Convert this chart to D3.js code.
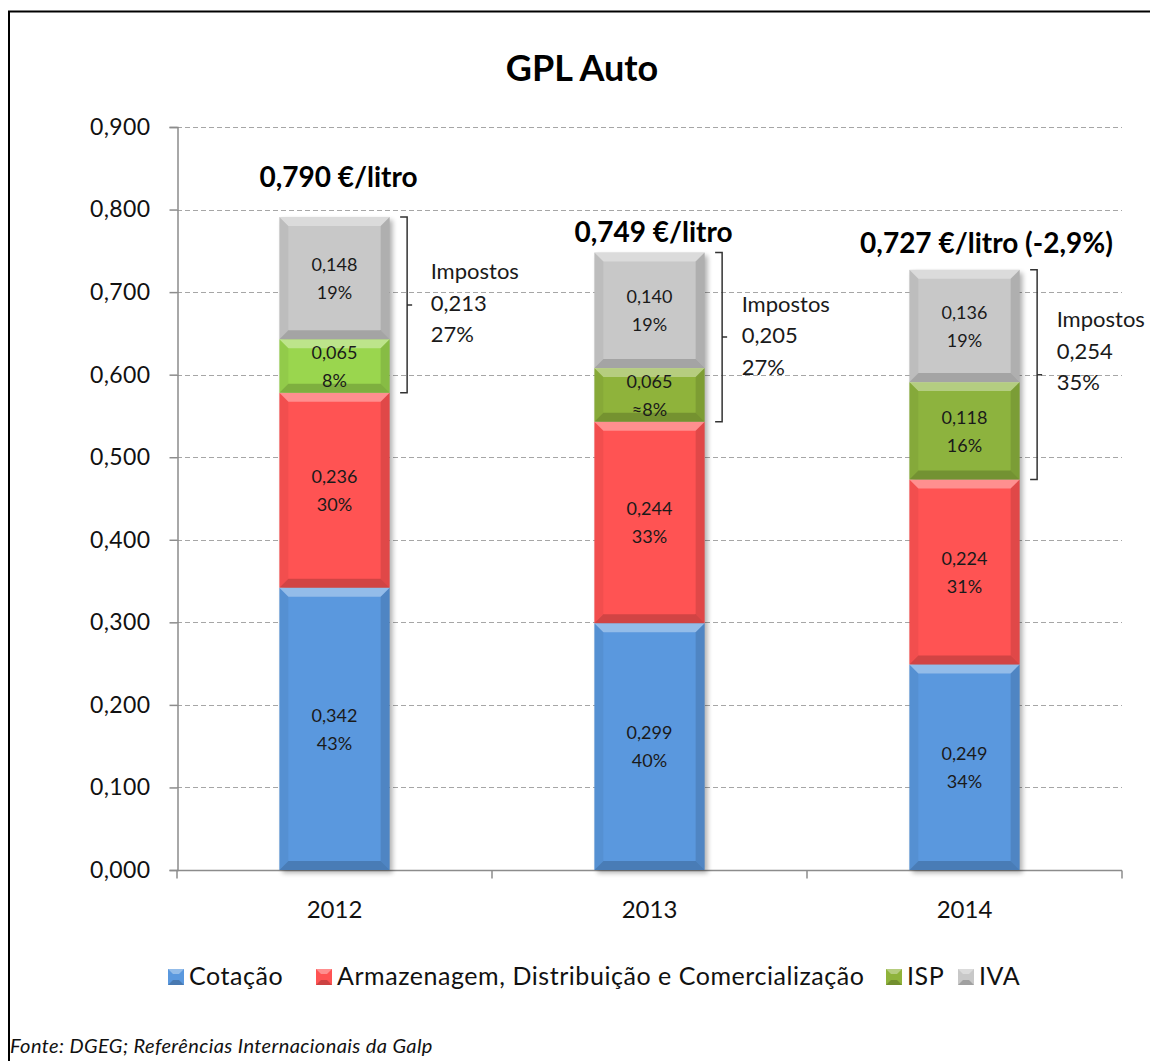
<!DOCTYPE html>
<html>
<head>
<meta charset="utf-8">
<script src="https://cdn.jsdelivr.net/npm/d3@7"></script>
<style>
  body { margin: 0; background: #fff; }
  svg { display: block; font-family: Lato, "Open Sans", sans-serif; }
</style>
</head>
<body>
<div id="chart"></div>
<script>
// chart data
const years = ["2012", "2013", "2014"];
const seriesNames = ["Cotação", "Armazenagem, Distribuição e Comercialização", "ISP", "IVA"];
const cotacao = [0.342, 0.299, 0.249];
const armazenagem = [0.236, 0.244, 0.224];
const isp = [0.065, 0.065, 0.118];
const iva = [0.148, 0.140, 0.136];
const cotacaoPct = ["43%", "40%", "34%"];
const armazenagemPct = ["30%", "33%", "31%"];
const ispPct = ["8%", "≈8%", "16%"];
const ivaPct = ["19%", "19%", "19%"];
const totals = ["0,790 €/litro", "0,749 €/litro", "0,727 €/litro (-2,9%)"];
const impostos = ["0,213", "0,205", "0,254"];
const impostosPct = ["27%", "27%", "35%"];
const yTicks = [0, 0.1, 0.2, 0.3, 0.4, 0.5, 0.6, 0.7, 0.8, 0.9];

// layout tweaks for the annotations
const totalLift = [30, 10, 17];
const impostosShift = [-2, -2, -24];

const width = 1150, height = 1061;
const margin = { left: 177, right: 28, top: 127, bottom: 191 };

const svg = d3.select("#chart").append("svg")
  .attr("width", width)
  .attr("height", height);

// frame
svg.append("path")
  .attr("d", `M9,${height + 5} V11.5 H${width + 5}`)
  .attr("fill", "none")
  .attr("stroke", "#000")
  .attr("stroke-width", 2);

const x = d3.scaleBand()
  .domain(years)
  .range([margin.left, width - margin.right])
  .paddingInner(0.65)
  .paddingOuter(0.325);

const y = d3.scaleLinear()
  .domain([0, 0.9])
  .range([height - margin.bottom, margin.top]);

const total = i => cotacao[i] + armazenagem[i] + isp[i] + iva[i];

// title
svg.append("text")
  .attr("x", 582).attr("y", 81)
  .attr("text-anchor", "middle")
  .attr("font-size", 36).attr("font-weight", "bold")
  .text("GPL Auto");

// gridlines
svg.append("g")
  .selectAll("line")
  .data(yTicks.slice(1))
  .join("line")
  .attr("x1", margin.left).attr("x2", width - margin.right)
  .attr("y1", d => Math.round(y(d)) + 0.5).attr("y2", d => Math.round(y(d)) + 0.5)
  .attr("stroke", "#a6a6a6")
  .attr("stroke-dasharray", "5,3");

// y axis
const yAxis = svg.append("g")
  .attr("transform", `translate(${margin.left + 0.5},0)`)
  .call(d3.axisLeft(y).tickValues(yTicks).tickSize(8).tickPadding(19)
    .tickFormat(d => d3.format(".3f")(d).replace(".", ",")));
yAxis.select(".domain").attr("stroke", "#8c8c8c").attr("stroke-width", 1.5);
yAxis.selectAll(".tick line").attr("stroke", "#8c8c8c").attr("stroke-width", 1.5);
yAxis.selectAll("text").attr("font-size", 23).attr("letter-spacing", 0.4).attr("fill", "#111").attr("font-family", "Lato, sans-serif");

// x axis
const xBase = Math.round(y(0)) + 0.5;
svg.append("line")
  .attr("x1", margin.left).attr("x2", width - margin.right)
  .attr("y1", xBase).attr("y2", xBase)
  .attr("stroke", "#8c8c8c").attr("stroke-width", 1.5);
const bandEdges = d3.range(years.length + 1).map(i => margin.left + i * (width - margin.left - margin.right) / years.length);
svg.append("g")
  .selectAll("line")
  .data(bandEdges)
  .join("line")
  .attr("x1", d => d).attr("x2", d => d)
  .attr("y1", xBase).attr("y2", xBase + 8)
  .attr("stroke", "#8c8c8c").attr("stroke-width", 1.5);
svg.append("g")
  .selectAll("text")
  .data(years)
  .join("text")
  .attr("x", d => x(d) + x.bandwidth() / 2)
  .attr("y", xBase + 47)
  .attr("text-anchor", "middle")
  .attr("font-size", 24).attr("fill", "#111")
  .text(d => d);

// stacked segments
const colors = ["#5a98de", "#ff5353", "#92cf4c", "#c8c8c8"];
const ispColors = ["#9ad64e", "#8fb33b", "#8db33e"];
const values = [cotacao, armazenagem, isp, iva];
const pcts = [cotacaoPct, armazenagemPct, ispPct, ivaPct];

const segments = [];
years.forEach((yr, i) => {
  let base = 0;
  values.forEach((vals, s) => {
    segments.push({
      year: yr, i, s,
      y0: base, y1: base + vals[i],
      value: vals[i], pct: pcts[s][i],
      color: s === 2 ? ispColors[i] : colors[s]
    });
    base += vals[i];
  });
});

const defs = svg.append("defs");
defs.append("filter").attr("id", "shadow")
  .attr("x", "-20%").attr("y", "-20%").attr("width", "140%").attr("height", "140%")
  .append("feGaussianBlur").attr("stdDeviation", 2.5);

// shadows behind each bar
svg.append("g")
  .selectAll("rect")
  .data(years)
  .join("rect")
  .attr("x", d => x(d) + 3)
  .attr("y", (d, i) => y(total(i)) + 3)
  .attr("width", x.bandwidth())
  .attr("height", (d, i) => y(0) - y(total(i)))
  .attr("fill", "#000").attr("opacity", 0.3)
  .attr("filter", "url(#shadow)");

const seg = svg.append("g")
  .selectAll("g")
  .data(segments)
  .join("g");

seg.append("rect")
  .attr("x", d => x(d.year))
  .attr("y", d => y(d.y1))
  .attr("width", x.bandwidth())
  .attr("height", d => y(d.y0) - y(d.y1))
  .attr("fill", d => d.color);

// bevel edges
function bevel(d, side) {
  const x0 = x(d.year), x1 = x0 + x.bandwidth();
  const t = y(d.y1), b = y(d.y0);
  const k = Math.min(9, (b - t) / 3);
  if (side === "top") return `M${x0},${t}H${x1}L${x1 - k},${t + k}H${x0 + k}Z`;
  if (side === "bottom") return `M${x0},${b}H${x1}L${x1 - k},${b - k}H${x0 + k}Z`;
  if (side === "left") return `M${x0},${t}L${x0 + k},${t + k}V${b - k}L${x0},${b}Z`;
  return `M${x1},${t}L${x1 - k},${t + k}V${b - k}L${x1},${b}Z`;
}
seg.append("path").attr("d", d => bevel(d, "top")).attr("fill", "#fff").attr("opacity", 0.35);
seg.append("path").attr("d", d => bevel(d, "bottom")).attr("fill", "#000").attr("opacity", 0.18);
seg.append("path").attr("d", d => bevel(d, "left")).attr("fill", "#000").attr("opacity", 0.05);
seg.append("path").attr("d", d => bevel(d, "right")).attr("fill", "#000").attr("opacity", 0.12);

// segment labels
const segLabel = seg.append("text")
  .attr("x", d => x(d.year) + x.bandwidth() / 2)
  .attr("y", d => (y(d.y0) + y(d.y1)) / 2)
  .attr("text-anchor", "middle")
  .attr("font-size", 18).attr("fill", "#1a1a1a");
segLabel.append("tspan")
  .attr("x", d => x(d.year) + x.bandwidth() / 2)
  .attr("dy", "-0.4em")
  .text(d => d3.format(".3f")(d.value).replace(".", ","));
segLabel.append("tspan")
  .attr("x", d => x(d.year) + x.bandwidth() / 2)
  .attr("dy", "1.55em")
  .text(d => d.pct);

// total labels
svg.append("g")
  .selectAll("text")
  .data(years)
  .join("text")
  .attr("x", (d, i) => x(d) + x.bandwidth() / 2 + (i === 2 ? 22 : 4))
  .attr("y", (d, i) => y(total(i)) - totalLift[i])
  .attr("text-anchor", "middle")
  .attr("font-size", 28).attr("font-weight", "bold").attr("fill", "#000")
  .text((d, i) => totals[i]);

// impostos brackets
const brk = svg.append("g")
  .selectAll("g")
  .data(years)
  .join("g");
brk.append("path")
  .attr("d", (d, i) => {
    const bx = x(d) + x.bandwidth() + 17.5;
    const top = y(total(i));
    const bot = y(cotacao[i] + armazenagem[i]);
    const mid = (top + bot) / 2;
    return `M${bx - 7},${top}H${bx}V${bot}H${bx - 7}M${bx},${mid}H${bx + 5}`;
  })
  .attr("fill", "none")
  .attr("stroke", "#333")
  .attr("stroke-width", 1.5);
brk.each(function(d, i) {
  const tx = x(d) + x.bandwidth() + (i === 0 ? 41 : 37);
  const mid = (y(total(i)) + y(cotacao[i] + armazenagem[i])) / 2 + impostosShift[i];
  d3.select(this).append("text")
    .attr("font-size", 22).attr("fill", "#1a1a1a")
    .selectAll("tspan")
    .data(["Impostos", impostos[i], impostosPct[i]])
    .join("tspan")
    .attr("x", tx)
    .attr("y", (s, k) => mid + 8 + (k - 1) * 31.5)
    .text(s => s);
});

// legend
const legendItems = [
  { name: seriesNames[0], color: colors[0], x: 168 },
  { name: seriesNames[1], color: colors[1], x: 316 },
  { name: seriesNames[2], color: ispColors[1], x: 886 },
  { name: seriesNames[3], color: colors[3], x: 958 }
];
const leg = svg.append("g")
  .selectAll("g")
  .data(legendItems)
  .join("g")
  .attr("transform", d => `translate(${d.x},969)`);
leg.append("rect")
  .attr("width", 16).attr("height", 16)
  .attr("fill", d => d.color);
leg.append("path")
  .attr("d", "M0,0H16L11,5H5Z").attr("fill", "#fff").attr("opacity", 0.35);
leg.append("path")
  .attr("d", "M0,16H16L11,11H5Z").attr("fill", "#000").attr("opacity", 0.2);
leg.append("text")
  .attr("x", 21).attr("y", 16)
  .attr("font-size", 25).attr("letter-spacing", 0.55).attr("fill", "#111")
  .text(d => d.name);

// source
svg.append("text")
  .attr("x", 10).attr("y", 1053)
  .attr("font-size", 20).attr("letter-spacing", 0.4).attr("font-style", "italic").attr("fill", "#111")
  .text("Fonte: DGEG; Referências Internacionais da Galp");
</script>
</body>
</html>
